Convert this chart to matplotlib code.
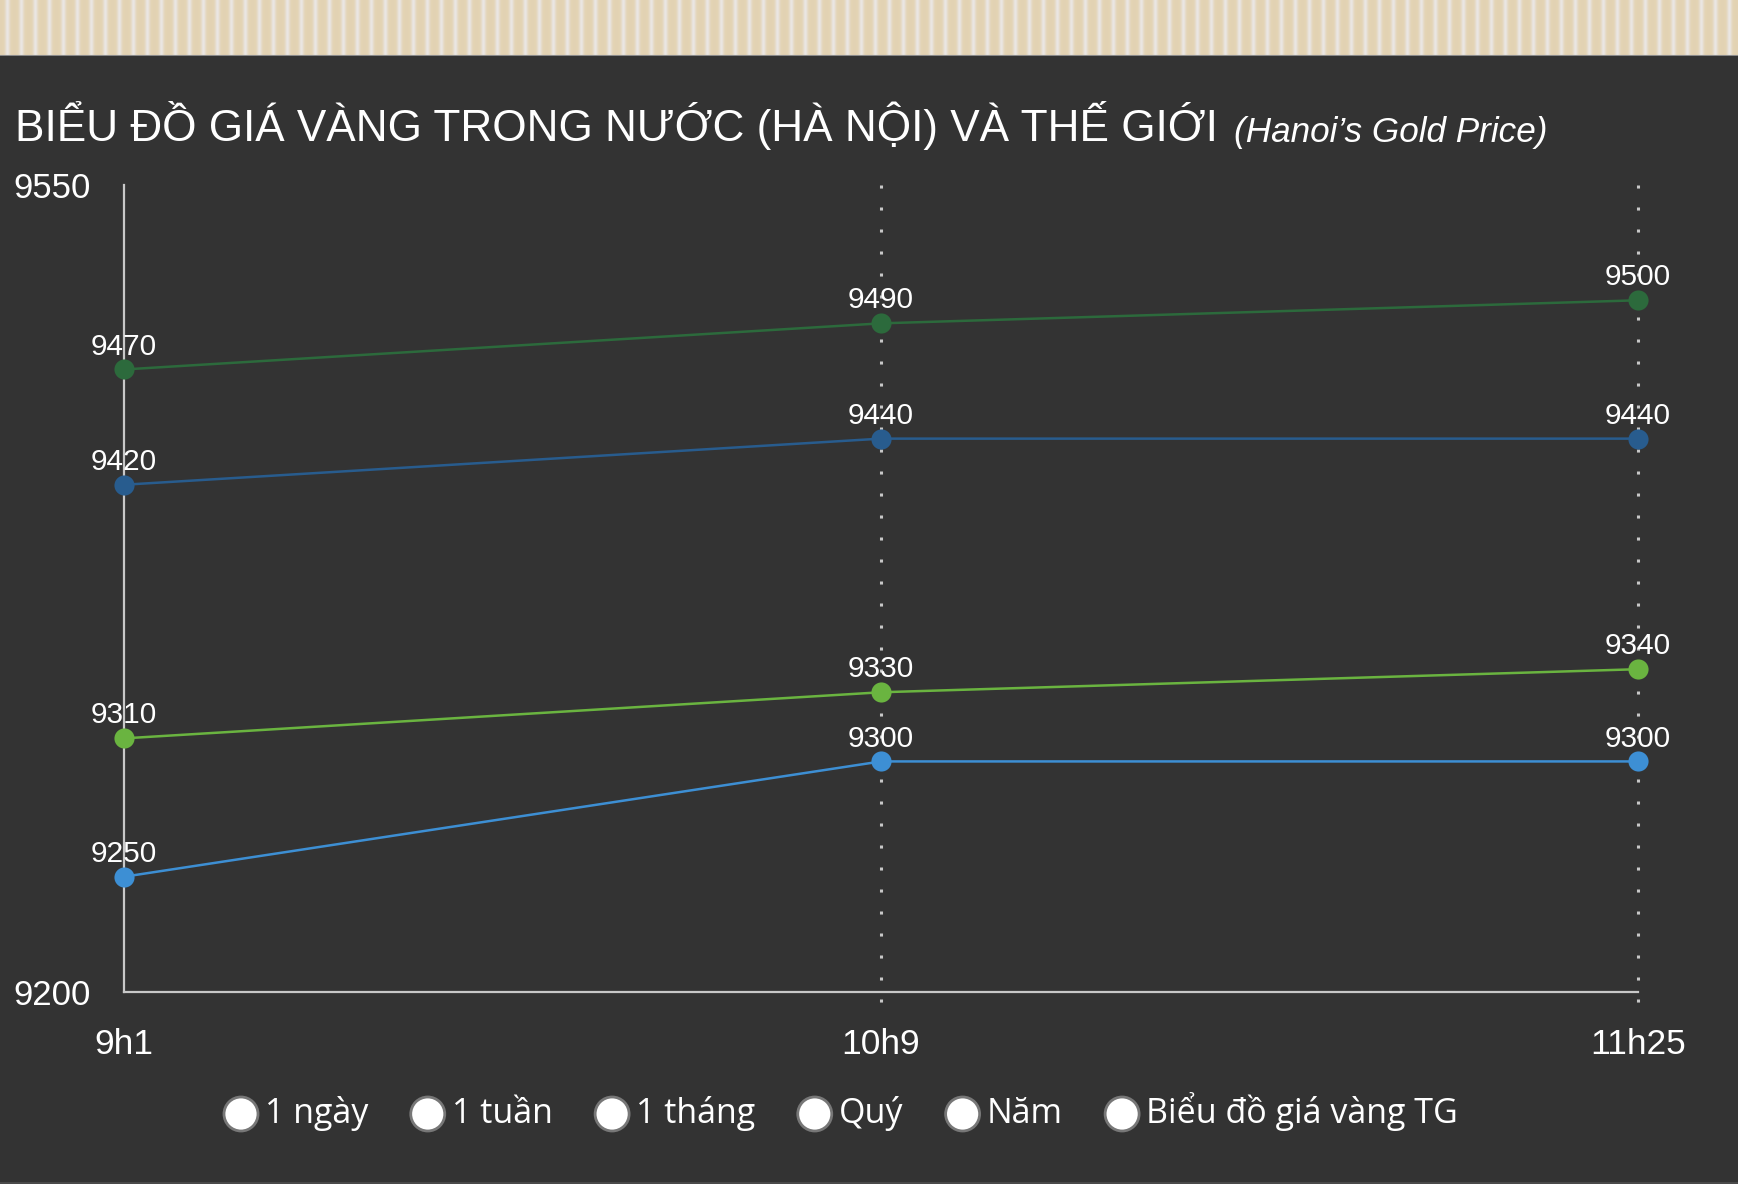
import numpy as np
import matplotlib
matplotlib.use('Agg')
from matplotlib import pyplot as plt
from matplotlib.patches import Ellipse
from matplotlib.lines import Line2D

# Dữ liệu
times = ['9h1', '10h9', '11h25']
y_ticks = [9200, 9550]
series_1 = [9470, 9490, 9500]   # xanh lá đậm
series_2 = [9420, 9440, 9440]   # xanh dương đậm
series_3 = [9310, 9330, 9340]   # xanh lá nhạt
series_4 = [9250, 9300, 9300]   # xanh dương nhạt
series_colors = ['#2c6a3c', '#285c8e', '#6ab440', '#3d8fd4']
legend_labels = ['1 ngày', '1 tuần', '1 tháng', 'Quý', 'Năm', 'Biểu đồ giá vàng TG']

title_main = 'BIỂU ĐỒ GIÁ VÀNG TRONG NƯỚC (HÀ NỘI) VÀ THẾ GIỚI'
title_sub = '(Hanoi’s Gold Price)'

W, H = 1738, 1184
BG = '#333333'
plt.rcParams['font.family'] = ['Liberation Sans', 'DejaVu Sans']

fig = plt.figure(figsize=(W / 100, H / 100), dpi=100, facecolor=BG)


def fx(px):
    return px / W


def fy(py):
    return 1 - py / H


# Dải sọc phía trên
ax_top = fig.add_axes([0, fy(56), 1, 56 / H])
xs = np.arange(W)
t = (xs % 14) - 7
w = np.exp(-(t / 2.4) ** 2)
beige = np.array([0.890, 0.827, 0.702])
light = np.array([0.918, 0.902, 0.890])
row = beige[None, :] * (1 - w[:, None]) + light[None, :] * w[:, None]
ax_top.imshow(np.repeat(row[None, :, :], 56, axis=0), aspect='auto',
              extent=[0, W, 0, 56], interpolation='bilinear')
ax_top.axhline(0.5, color='#8a8a8a', lw=1.5)
ax_top.set_xlim(0, W)
ax_top.set_ylim(0, 56)
ax_top.axis('off')

# Vùng biểu đồ
ax = fig.add_axes([fx(124), fy(992), (1638 - 124) / W, (992 - 185) / H])
ax.set_facecolor(BG)
x = np.arange(len(times))

for xv in x[1:]:
    ax.plot([xv, xv], [1.0, -0.025], transform=ax.get_xaxis_transform(),
            color='#c8c8c8', lw=2.2, linestyle=(0, (1, 6.2)),
            clip_on=False, zorder=1)

all_series = [series_1, series_2, series_3, series_4]
for vals, col in zip(all_series, series_colors):
    ax.plot(x, vals, color=col, lw=1.8, marker='o', markersize=14.5,
            markeredgewidth=0, zorder=3, clip_on=False)
    for xi, v in zip(x, vals):
        ax.annotate(str(v), (xi, v), xytext=(0, 16.5), textcoords='offset points',
                    ha='center', va='center', color='white', fontsize=21.5, zorder=4)

ax.set_xlim(0, len(times) - 1)
ax.set_ylim(y_ticks[0], y_ticks[-1])
ax.set_xticks(x)
ax.set_xticklabels(times)
ax.set_yticks(y_ticks)
ax.set_yticklabels([str(v) for v in y_ticks])
ax.tick_params(axis='x', length=0, pad=26, labelsize=25.5, labelcolor='white')
ax.tick_params(axis='y', length=0, pad=79.5, labelsize=25, labelcolor='white')
for lbl in ax.get_yticklabels():
    lbl.set_horizontalalignment('left')
for side in ['top', 'right']:
    ax.spines[side].set_visible(False)
for side in ['left', 'bottom']:
    ax.spines[side].set_color('#c8c8c8')
    ax.spines[side].set_linewidth(1.6)
    ax.spines[side].set_zorder(2)

# Tiêu đề
t1 = fig.text(fx(15), fy(141), title_main, color='white', fontsize=31.8,
              va='baseline', ha='left')
fig.canvas.draw()
renderer = fig.canvas.get_renderer()
bb = t1.get_window_extent(renderer)
fig.text((bb.x1 + 16) / W, fy(142), title_sub, color='white', fontsize=25.3,
         style='italic', va='baseline', ha='left')

# Chú thích dạng nút radio
cx = 241
cy = 1114
r = 17
for lab in legend_labels:
    fig.add_artist(Ellipse((fx(cx), fy(cy)), 2 * r / W, 2 * r / H,
                           transform=fig.transFigure, facecolor='white',
                           edgecolor='#777777', lw=2))
    tt = fig.text(fx(cx + 24), fy(1123), lab, color='white', fontsize=24.5,
                  family=['Open Sans', 'DejaVu Sans'], va='baseline', ha='left')
    fig.canvas.draw()
    tb = tt.get_window_extent(fig.canvas.get_renderer())
    cx = tb.x1 + 42.5 + r

fig.add_artist(Line2D([0, 1], [fy(1183), fy(1183)], transform=fig.transFigure,
                      color='#4a4a4a', lw=1.5))

fig.savefig('out.png', dpi=100, facecolor=BG)
